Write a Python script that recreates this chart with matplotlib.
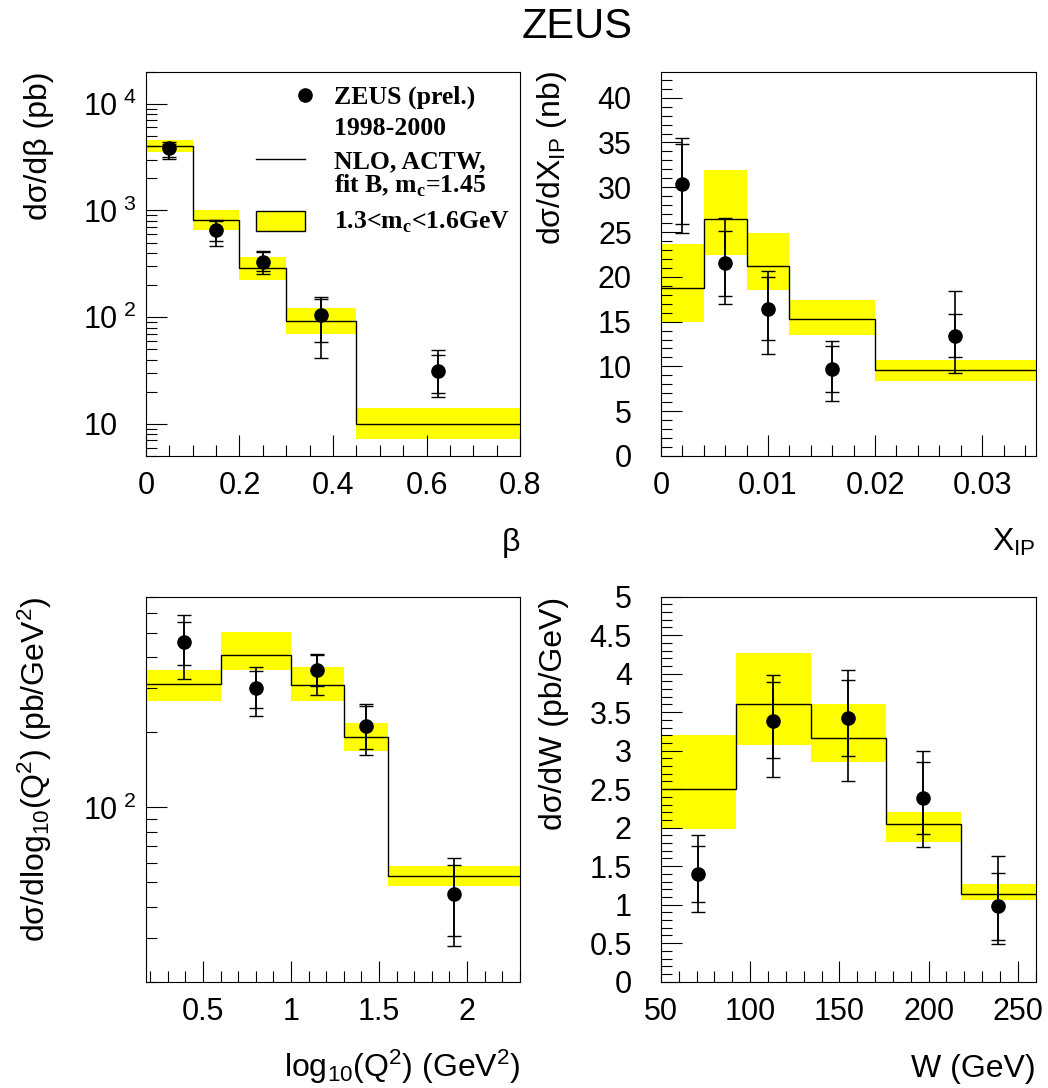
import matplotlib
matplotlib.use('Agg')
import matplotlib.pyplot as plt
from matplotlib.ticker import FixedLocator, FixedFormatter, LogLocator, MultipleLocator, NullFormatter, FormatStrFormatter
from matplotlib.patches import Rectangle

plt.rcParams['font.family'] = 'Liberation Sans'
plt.rcParams['mathtext.fontset'] = 'custom'
plt.rcParams['mathtext.rm'] = 'Liberation Sans'
plt.rcParams['mathtext.it'] = 'Liberation Sans:italic'
plt.rcParams['mathtext.bf'] = 'Liberation Serif:bold'

# --- d sigma / d beta (pb) ---
beta_edges = [0, 0.1, 0.2, 0.3, 0.45, 0.8]
beta_nlo = [4010, 806, 288, 92, 9.9]
beta_nlo_lo = [3570, 660, 225, 70, 7.2]
beta_nlo_hi = [4600, 1015, 367, 122, 14.1]
beta_x = [0.05, 0.15, 0.25, 0.375, 0.625]
beta_y = [3840, 650, 330, 104, 31]
beta_stat_dn = [640, 130, 58, 45, 11.6]
beta_stat_up = [400, 150, 75, 44, 13]
beta_tot_dn = [790, 183, 77, 63, 13.2]
beta_tot_up = [500, 169, 87, 49, 18]

# --- d sigma / d x_IP (nb) ---
xp_edges = [0, 0.004, 0.008, 0.012, 0.02, 0.035]
xp_nlo = [18.75, 26.5, 21.2, 15.3, 9.56]
xp_nlo_lo = [15.0, 22.4, 18.5, 13.5, 8.4]
xp_nlo_hi = [23.7, 31.9, 24.9, 17.4, 10.7]
xp_x = [0.002, 0.006, 0.01, 0.016, 0.0275]
xp_y = [30.4, 21.5, 16.4, 9.7, 13.4]
xp_stat_dn = [4.5, 3.6, 3.5, 2.6, 2.4]
xp_stat_up = [4.4, 3.6, 3.6, 2.6, 2.4]
xp_tot_dn = [5.5, 4.5, 5.0, 3.6, 4.1]
xp_tot_up = [5.1, 5.1, 4.2, 3.1, 5.0]

# --- d sigma / d log10(Q^2) (pb/GeV^2) ---
q2_edges = [0.176, 0.602, 1.0, 1.301, 1.55, 2.301]
q2_nlo = [312, 408, 309, 192, 53]
q2_nlo_lo = [266, 354, 266, 168, 48.3]
q2_nlo_hi = [356, 506, 366, 217, 58.3]
q2_x = [0.39, 0.8, 1.15, 1.425, 1.925]
q2_y = [461, 301, 356, 213, 44.9]
q2_stat_dn = [88, 50, 49, 42, 14.3]
q2_stat_up = [91, 51, 54, 42, 13.7]
q2_tot_dn = [135, 69, 74, 51, 17.1]
q2_tot_up = [129, 64, 57, 46, 17.5]

# --- d sigma / dW (pb/GeV) ---
w_edges = [50, 92, 134, 176, 218, 260]
w_nlo = [2.50, 3.61, 3.17, 2.05, 1.135]
w_nlo_lo = [1.98, 3.07, 2.85, 1.82, 1.065]
w_nlo_hi = [3.20, 4.27, 3.60, 2.21, 1.265]
w_x = [71, 113, 155, 197, 239]
w_y = [1.40, 3.39, 3.42, 2.38, 0.98]
w_stat_dn = [0.37, 0.49, 0.49, 0.46, 0.44]
w_stat_up = [0.36, 0.50, 0.50, 0.47, 0.43]
w_tot_dn = [0.50, 0.73, 0.82, 0.63, 0.49]
w_tot_up = [0.51, 0.59, 0.63, 0.61, 0.65]

TICK_FS = 22
TITLE_FS = 23


def draw_panel(ax, edges, nlo, nlo_lo, nlo_hi, x, y, stat_dn, stat_up, tot_dn, tot_up):
    # theory band + central NLO histogram
    ax.stairs(nlo_hi, edges, baseline=nlo_lo, fill=True, color='#ffff00', linewidth=0)
    ax.stairs(nlo, edges, baseline=None, color='black', linewidth=1.0)
    # outer = stat+syst, inner = stat
    ax.errorbar(x, y, yerr=[tot_dn, tot_up], fmt='none', ecolor='black',
                elinewidth=1.2, capsize=5, capthick=1.0)
    ax.errorbar(x, y, yerr=[stat_dn, stat_up], fmt='none', ecolor='black',
                elinewidth=1.2, capsize=5, capthick=1.0)
    ax.plot(x, y, 'o', color='black', markersize=9.5, zorder=5)
    ax.set_xlim(edges[0], edges[-1])
    ax.set_axisbelow(False)
    ax.tick_params(which='both', direction='in', top=False, right=False, width=0.8,
                   labelsize=TICK_FS)
    ax.tick_params(which='major', length=15)
    ax.tick_params(which='minor', length=8)
    ax.tick_params(axis='x', pad=11)
    ax.tick_params(axis='y', pad=21)
    for s in ax.spines.values():
        s.set_linewidth(0.8)


def set_titles(ax, xtitle, ytitle):
    ax.set_xlabel(xtitle, loc='right', fontsize=TITLE_FS)
    ax.xaxis.set_label_coords(1.0, -0.247)
    ax.xaxis.label.set_va('baseline')
    ax.set_ylabel(ytitle, loc='top', fontsize=TITLE_FS)
    ax.yaxis.set_label_coords(-0.245, 1.0)


def log_labels(ax, ticks, labels):
    ax.yaxis.set_major_locator(FixedLocator(ticks))
    ax.yaxis.set_major_formatter(FixedFormatter(labels))
    ax.yaxis.set_minor_locator(LogLocator(subs=range(2, 10), numticks=20))
    ax.yaxis.set_minor_formatter(NullFormatter())
    ax.tick_params(axis='y', pad=45)
    for t in ax.get_yticklabels():
        t.set_ha('left')


def power(n):
    return r'$\mathrm{10}^{\ \mathrm{%d}}$' % n


fig = plt.figure(figsize=(10.48, 10.88), dpi=100)
ax1 = fig.add_axes([0.1393, 0.5809, 0.3569, 0.3532])
ax2 = fig.add_axes([0.6307, 0.5809, 0.3575, 0.3532])
ax3 = fig.add_axes([0.1393, 0.0977, 0.3569, 0.3539])
ax4 = fig.add_axes([0.6307, 0.0977, 0.3575, 0.3539])

fig.text(0.5506, 0.9648, 'ZEUS', ha='center', va='baseline', fontsize=30)

# beta
draw_panel(ax1, beta_edges, beta_nlo, beta_nlo_lo, beta_nlo_hi, beta_x, beta_y,
           beta_stat_dn, beta_stat_up, beta_tot_dn, beta_tot_up)
ax1.set_yscale('log')
ax1.set_ylim(5, 2e4)
log_labels(ax1, [10, 100, 1000, 10000], ['10', power(2), power(3), power(4)])
ax1.xaxis.set_major_locator(MultipleLocator(0.2))
ax1.xaxis.set_minor_locator(MultipleLocator(0.05))
ax1.xaxis.set_major_formatter(FormatStrFormatter('%g'))
set_titles(ax1, 'β', 'dσ/dβ (pb)')

# legend
lx_key0, lx_key1, lx_txt = 0.294, 0.426, 0.503
leg_font = dict(family='Liberation Serif', weight='bold', fontsize=18.5,
                transform=ax1.transAxes, va='baseline')
ax1.plot([0.426], [0.939], 'o', color='black', markersize=9.5, transform=ax1.transAxes)
ax1.text(lx_txt, 0.916, 'ZEUS (prel.)', **leg_font)
ax1.text(lx_txt, 0.835, '1998-2000', **leg_font)
ax1.plot([lx_key0, lx_key1], [0.772, 0.772], color='black', linewidth=1.0,
         transform=ax1.transAxes)
ax1.text(lx_txt, 0.749, 'NLO, ACTW,', **leg_font)
ax1.text(lx_txt, 0.684, r'fit B, m$_{\mathbf{c}}$=1.45', **leg_font)
ax1.add_patch(Rectangle((lx_key0, 0.585), lx_key1 - lx_key0, 0.053, transform=ax1.transAxes,
                        facecolor='#ffff00', edgecolor='black', linewidth=1.0))
ax1.text(lx_txt, 0.590, r'1.3<m$_{\mathbf{c}}$<1.6GeV', **leg_font)

# x_IP
draw_panel(ax2, xp_edges, xp_nlo, xp_nlo_lo, xp_nlo_hi, xp_x, xp_y,
           xp_stat_dn, xp_stat_up, xp_tot_dn, xp_tot_up)
ax2.set_ylim(0, 42.9)
ax2.yaxis.set_major_locator(MultipleLocator(5))
ax2.yaxis.set_minor_locator(MultipleLocator(1))
ax2.xaxis.set_major_locator(MultipleLocator(0.01))
ax2.xaxis.set_minor_locator(MultipleLocator(0.002))
ax2.xaxis.set_major_formatter(FormatStrFormatter('%g'))
ax2.yaxis.set_major_formatter(FormatStrFormatter('%g'))
set_titles(ax2, r'X$_{\mathrm{IP}}$', r'dσ/dX$_{\mathrm{IP}}$ (nb)')

# log10(Q^2)
draw_panel(ax3, q2_edges, q2_nlo, q2_nlo_lo, q2_nlo_hi, q2_x, q2_y,
           q2_stat_dn, q2_stat_up, q2_tot_dn, q2_tot_up)
ax3.set_yscale('log')
ax3.set_ylim(20, 700)
log_labels(ax3, [100], [power(2)])
ax3.xaxis.set_major_locator(MultipleLocator(0.5))
ax3.xaxis.set_minor_locator(MultipleLocator(0.1))
ax3.xaxis.set_major_formatter(FormatStrFormatter('%g'))
set_titles(ax3, r'log$_{10}$(Q$^{2}$) (GeV$^{2}$)', r'dσ/dlog$_{10}$(Q$^{2}$) (pb/GeV$^{2}$)')

# W
draw_panel(ax4, w_edges, w_nlo, w_nlo_lo, w_nlo_hi, w_x, w_y,
           w_stat_dn, w_stat_up, w_tot_dn, w_tot_up)
ax4.set_ylim(0, 5)
ax4.yaxis.set_major_locator(MultipleLocator(0.5))
ax4.yaxis.set_minor_locator(MultipleLocator(0.1))
ax4.xaxis.set_major_locator(MultipleLocator(50))
ax4.xaxis.set_minor_locator(MultipleLocator(10))
ax4.xaxis.set_major_formatter(FormatStrFormatter('%g'))
ax4.yaxis.set_major_formatter(FormatStrFormatter('%g'))
set_titles(ax4, 'W (GeV)', 'dσ/dW (pb/GeV)')

fig.savefig('out.png', dpi=100)
